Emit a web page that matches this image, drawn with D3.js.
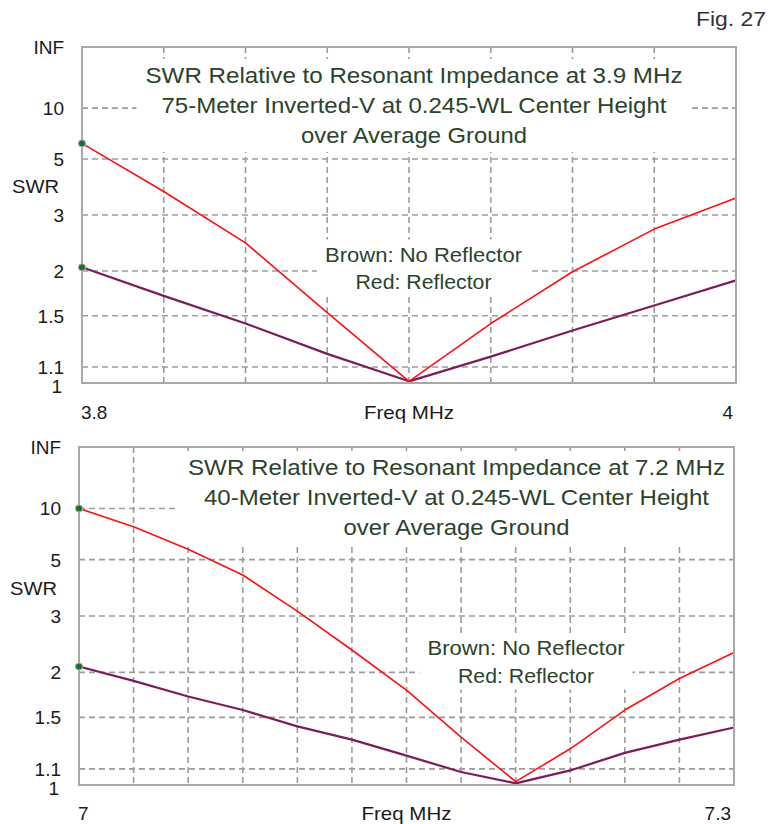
<!DOCTYPE html>
<html>
<head>
<meta charset="utf-8">
<script src="https://cdn.jsdelivr.net/npm/d3@7"></script>
<style>
  body { margin: 0; background: #fff; }
  svg { display: block; }
  text { font-family: Arial, "Liberation Sans", sans-serif; }
</style>
</head>
<body>
<svg id="chart" width="768" height="824"></svg>
<script>
// SWR axis: labels and the SWR values they mark
const swrTickLabels = ["INF", "10", "5", "3", "2", "1.5", "1.1", "1"];
const swrTickValues = [Infinity, 10, 5, 3, 2, 1.5, 1.1, 1];
const swrGridValues = [10, 5, 3, 2, 1.5, 1.1];

// 75-meter inverted-V
const freq75 = [3.8, 3.825, 3.85, 3.875, 3.9, 3.925, 3.95, 3.975, 4.0];
const swr75NoReflector = [2.05, 1.70, 1.43, 1.19, 1.01, 1.17, 1.37, 1.60, 1.88];
const swr75Reflector   = [5.97, 3.65, 2.43, 1.53, 1.01, 1.43, 1.99, 2.69, 3.45];
const freqTicks75 = ["3.8", "4"];
const title75 = [
  "SWR Relative to Resonant Impedance at 3.9 MHz",
  "75-Meter Inverted-V at 0.245-WL Center Height",
  "over Average Ground"
];

// 40-meter inverted-V
const freq40 = [7.0, 7.025, 7.05, 7.075, 7.1, 7.125, 7.15, 7.175, 7.2, 7.225, 7.25, 7.275, 7.3];
const swr40NoReflector = [2.08, 1.89, 1.71, 1.57, 1.42, 1.31, 1.19, 1.08, 1.01, 1.09, 1.21, 1.31, 1.41];
const swr40Reflector   = [10.0, 7.48, 5.61, 4.28, 3.12, 2.33, 1.78, 1.33, 1.02, 1.24, 1.57, 1.92, 2.29];
const freqTicks40 = ["7", "7.3"];
const title40 = [
  "SWR Relative to Resonant Impedance at 7.2 MHz",
  "40-Meter Inverted-V at 0.245-WL Center Height",
  "over Average Ground"
];

const legendLines = ["Brown: No Reflector", "Red: Reflector"];
const figureLabel = "Fig. 27";

const svg = d3.select("#chart");
const TEXT_GREEN = "#2b432b";
const GRID = "#9c9c9c";

// reflection-coefficient magnitude for a given SWR (INF -> 1)
const rho = s => (s === Infinity ? 1 : (s - 1) / (s + 1));

svg.append("text")
  .attr("x", 766).attr("y", 26)
  .attr("text-anchor", "end")
  .attr("font-size", 20)
  .attr("fill", "#333")
  .attr("textLength", 70).attr("lengthAdjust", "spacingAndGlyphs")
  .text(figureLabel);

function panel(cfg) {
  const g = svg.append("g");
  const x = d3.scaleLinear().domain(d3.extent(cfg.freq)).range([cfg.left, cfg.right]);
  const yr = d3.scaleLinear().domain([0, 1]).range([cfg.bottom, cfg.top]);
  const y = s => yr(rho(s));

  // dashed grid
  const nDiv = cfg.freq.length - 1;
  const xGrid = d3.range(1, nDiv).map(i => x(cfg.freq[i]));
  g.append("g").selectAll("line").data(xGrid).join("line")
    .attr("x1", d => d).attr("x2", d => d)
    .attr("y1", cfg.top).attr("y2", cfg.bottom)
    .attr("stroke", GRID).attr("stroke-width", 1.6)
    .attr("stroke-dasharray", "6,4");
  g.append("g").selectAll("line").data(swrGridValues).join("line")
    .attr("x1", cfg.left).attr("x2", cfg.right)
    .attr("y1", d => y(d)).attr("y2", d => y(d))
    .attr("stroke", GRID).attr("stroke-width", 1.6)
    .attr("stroke-dasharray", "6,4");

  // text block with an opaque background
  function textBlock(lines, cx, baseline, step, size, widths, pad) {
    const tg = g.append("g");
    const bg = tg.append("rect").attr("fill", "#fff");
    const tx = tg.append("g");
    lines.forEach((t, i) => {
      tx.append("text")
        .attr("x", cx).attr("y", baseline + i * step)
        .attr("text-anchor", "middle")
        .attr("font-size", size)
        .attr("fill", TEXT_GREEN)
        .attr("textLength", widths[i]).attr("lengthAdjust", "spacingAndGlyphs")
        .text(t);
    });
    const bb = tx.node().getBBox();
    const x0 = Math.max(cfg.left + 1, bb.x - pad[0]);
    const x1 = Math.min(cfg.right - 1, bb.x + bb.width + pad[0]);
    bg.attr("x", x0).attr("y", bb.y - pad[1])
      .attr("width", x1 - x0).attr("height", bb.height + pad[1] * 2);
  }
  textBlock(cfg.title, cfg.titleX, cfg.titleY, 30, 22, [537, 505, 226], [9, 4]);
  textBlock(legendLines, cfg.legendX, cfg.legendY, 27.5, 21, [197, 136], [8, 3]);

  // series
  const line = d3.line().x((d, i) => x(cfg.freq[i])).y(d => y(d));
  g.append("path").datum(cfg.noRefl)
    .attr("d", line).attr("fill", "none")
    .attr("stroke", "#7d1c5c").attr("stroke-width", 2.2)
    .attr("stroke-linejoin", "round");
  g.append("path").datum(cfg.refl)
    .attr("d", line).attr("fill", "none")
    .attr("stroke", "#ff1010").attr("stroke-width", 1.6)
    .attr("stroke-linejoin", "round");

  // frame
  g.append("rect")
    .attr("x", cfg.left).attr("y", cfg.top)
    .attr("width", cfg.right - cfg.left).attr("height", cfg.bottom - cfg.top)
    .attr("fill", "none").attr("stroke", "#a8a8a8").attr("stroke-width", 2);

  // start markers
  g.append("g").selectAll("circle").data([cfg.refl[0], cfg.noRefl[0]]).join("circle")
    .attr("cx", x(cfg.freq[0])).attr("cy", d => y(d)).attr("r", 3.6)
    .attr("fill", "#0a7a1a").attr("stroke", "#e890e8").attr("stroke-width", 1);

  // SWR tick labels
  g.append("g").selectAll("text").data(swrTickValues).join("text")
    .attr("x", (d, i) => swrTickLabels[i] === "1" ? cfg.left - 20 : cfg.left - 18)
    .attr("y", d => y(d))
    .attr("dy", (d, i) => swrTickLabels[i] === "1" ? "0.5em" : "0.36em")
    .attr("text-anchor", "end")
    .attr("font-size", 19)
    .attr("fill", "#1a1a1a")
    .text((d, i) => swrTickLabels[i]);
  g.append("text")
    .attr("x", cfg.swrLabelX).attr("y", cfg.swrLabelY)
    .attr("font-size", 19).attr("fill", "#1a1a1a")
    .attr("textLength", 47).attr("lengthAdjust", "spacingAndGlyphs")
    .text("SWR");

  // frequency labels
  g.append("text").attr("x", cfg.left - 1).attr("y", cfg.xLabelY)
    .attr("font-size", 19).attr("fill", "#1a1a1a").text(cfg.freqTicks[0]);
  g.append("text").attr("x", cfg.right - 3).attr("y", cfg.xLabelY)
    .attr("text-anchor", "end")
    .attr("font-size", 19).attr("fill", "#1a1a1a").text(cfg.freqTicks[1]);
  g.append("text").attr("x", (cfg.left + cfg.right) / 2).attr("y", cfg.xLabelY)
    .attr("text-anchor", "middle")
    .attr("font-size", 19).attr("fill", "#1a1a1a")
    .attr("textLength", 90).attr("lengthAdjust", "spacingAndGlyphs")
    .text("Freq MHz");
}

panel({
  left: 82, right: 736, top: 47, bottom: 383,
  freq: freq75, noRefl: swr75NoReflector, refl: swr75Reflector,
  freqTicks: freqTicks75, title: title75,
  titleX: 414, titleY: 83, legendX: 423.5, legendY: 261.5,
  swrLabelX: 12, swrLabelY: 193, xLabelY: 419
});

panel({
  left: 79, right: 734, top: 447, bottom: 785,
  freq: freq40, noRefl: swr40NoReflector, refl: swr40Reflector,
  freqTicks: freqTicks40, title: title40,
  titleX: 456.5, titleY: 475, legendX: 526, legendY: 655,
  swrLabelX: 10, swrLabelY: 595, xLabelY: 820
});
</script>
</body>
</html>
